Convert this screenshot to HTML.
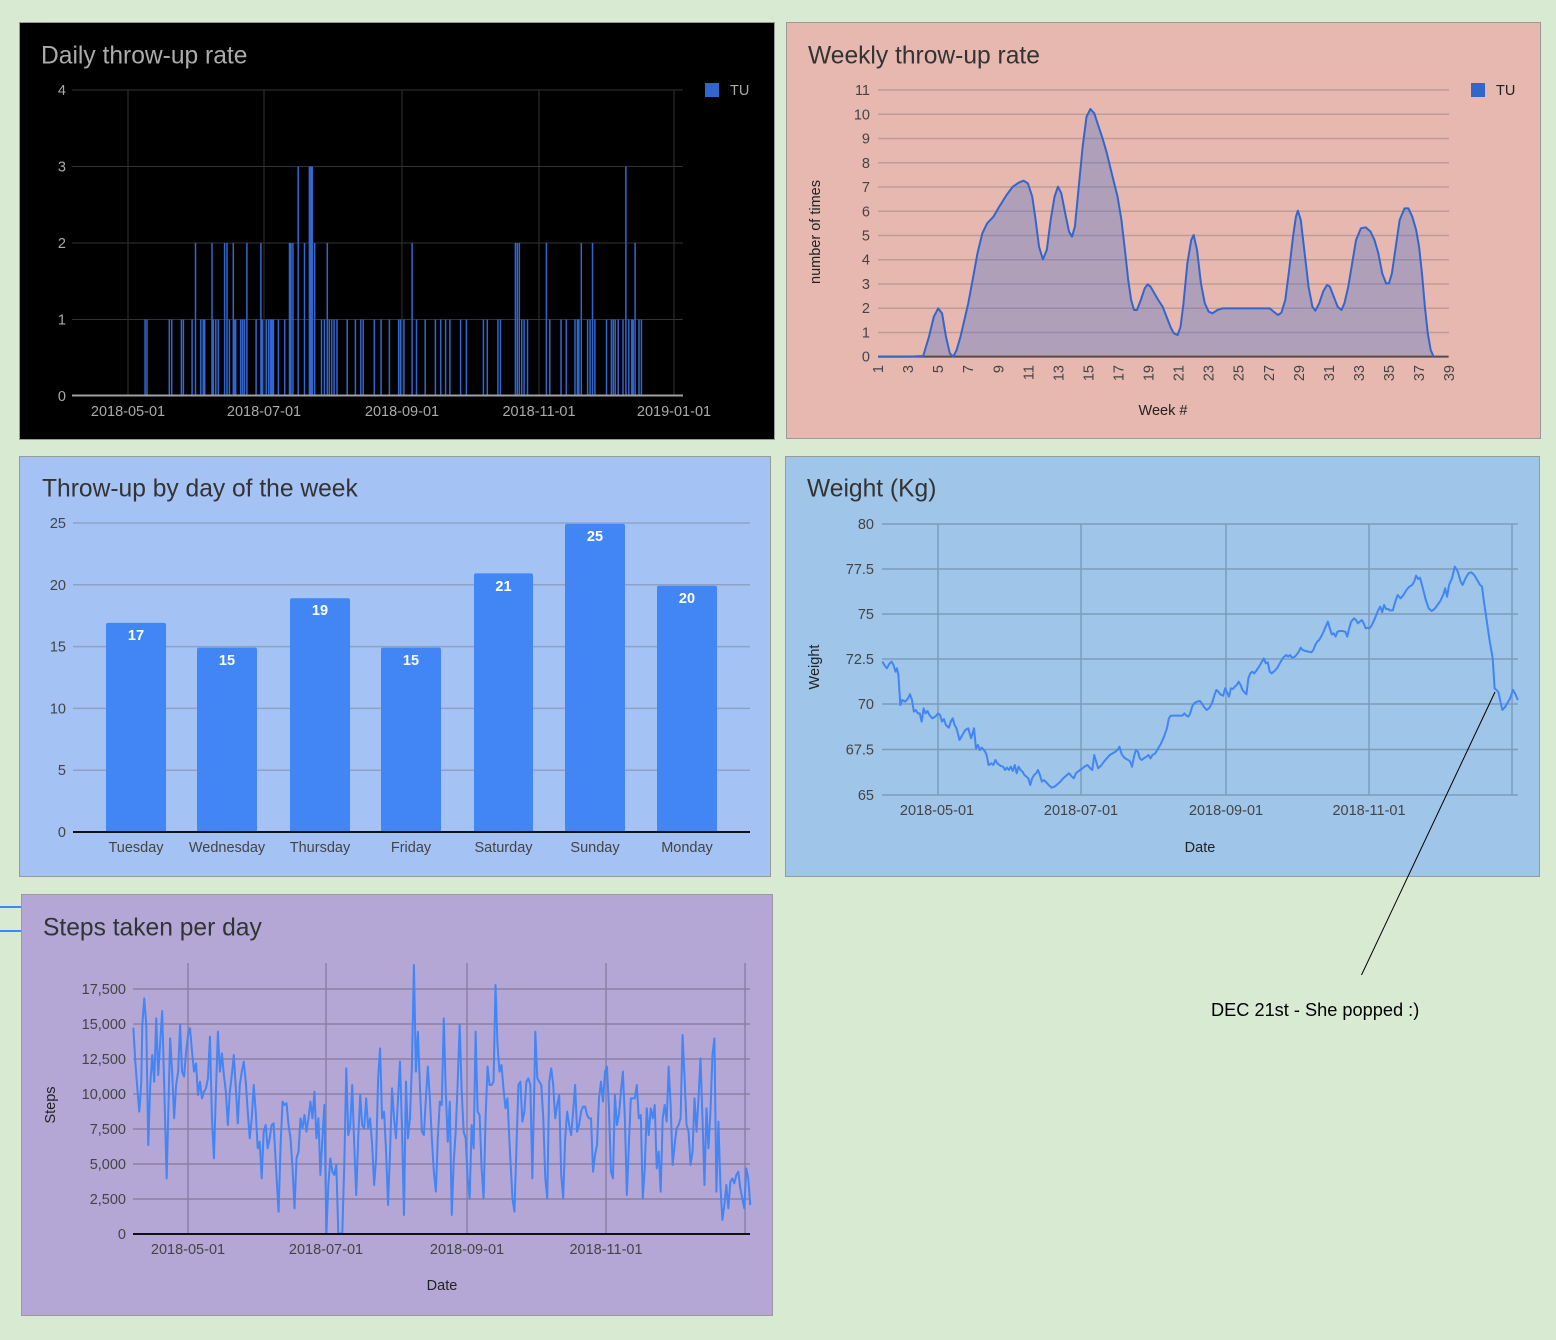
<!DOCTYPE html>
<html><head><meta charset="utf-8"><style>
html,body{margin:0;padding:0;background:#d9ead3;}
svg{display:block;}
text{font-family:"Liberation Sans",Arial,sans-serif;}
</style></head><body>
<svg width="1556" height="1340" viewBox="0 0 1556 1340" xmlns="http://www.w3.org/2000/svg">
<rect x="0" y="0" width="1556" height="1340" fill="#d9ead3"/>

<!-- left blue stubs -->
<line x1="0" y1="907" x2="21" y2="907" stroke="#4285f4" stroke-width="2"/>
<line x1="0" y1="931" x2="21" y2="931" stroke="#4285f4" stroke-width="2"/>

<!-- ============ PANEL 1: Daily ============ -->
<rect x="19.5" y="22.5" width="755" height="417" fill="#000" stroke="#9a9a9a"/>
<text x="41" y="63.5" font-size="24.6" fill="#ababab">Daily throw-up rate</text>
<g stroke="#333" stroke-width="1">
<line x1="72" y1="90" x2="683" y2="90"/>
<line x1="72" y1="166.5" x2="683" y2="166.5"/>
<line x1="72" y1="243" x2="683" y2="243"/>
<line x1="72" y1="319.5" x2="683" y2="319.5"/>
<line x1="128" y1="90" x2="128" y2="396"/>
<line x1="264" y1="90" x2="264" y2="396"/>
<line x1="402" y1="90" x2="402" y2="396"/>
<line x1="539" y1="90" x2="539" y2="396"/>
<line x1="674" y1="90" x2="674" y2="396"/>
</g>
<path stroke="#3366cc" stroke-width="1.5" fill="none" d="M145.1 396V319.5 M147 396V319.5 M169.3 396V319.5 M171.7 396V319.5 M181.4 396V319.5 M183.4 396V319.5 M192.1 396V319.5 M195.5 396V243 M200.8 396V319.5 M203.2 396V319.5 M204.7 396V319.5 M212 396V243 M213.4 396V319.5 M215.8 396V319.5 M218.3 396V319.5 M224.6 396V243 M227 396V243 M229.4 396V319.5 M233.3 396V243 M234.3 396V319.5 M235.7 396V319.5 M240.6 396V319.5 M242.5 396V319.5 M244.4 396V319.5 M246.9 396V243 M256.1 396V319.5 M260.9 396V243 M262.4 396V319.5 M266.2 396V319.5 M268.7 396V319.5 M270.6 396V319.5 M272.1 396V319.5 M273.5 396V319.5 M278.4 396V319.5 M284.7 396V319.5 M289.5 396V243 M291 396V243 M292.9 396V243 M298.2 396V166.5 M304.5 396V243 M309.4 396V166.5 M310.8 396V166.5 M312.3 396V166.5 M314.7 396V243 M321.5 396V319.5 M324.4 396V319.5 M327.3 396V243 M329.3 396V319.5 M331.7 396V319.5 M334.1 396V319.5 M337 396V319.5 M347.2 396V319.5 M355.4 396V319.5 M360.8 396V319.5 M363.2 396V319.5 M374.3 396V319.5 M381.1 396V319.5 M389.4 396V319.5 M398.6 396V319.5 M400.5 396V319.5 M403.9 396V319.5 M412.1 396V243 M416.5 396V319.5 M425.2 396V319.5 M435.4 396V319.5 M440.7 396V319.5 M445.6 396V319.5 M449.9 396V319.5 M460.6 396V319.5 M466.4 396V319.5 M483.4 396V319.5 M487.3 396V319.5 M497.9 396V319.5 M500.4 396V319.5 M515.4 396V243 M517.3 396V243 M519.3 396V243 M521.7 396V319.5 M524.1 396V319.5 M527.5 396V319.5 M546.4 396V243 M549.8 396V319.5 M561 396V319.5 M566.3 396V319.5 M575 396V319.5 M577.4 396V319.5 M578.9 396V319.5 M581.3 396V243 M587.6 396V319.5 M590.1 396V319.5 M592.5 396V243 M594.9 396V319.5 M606.5 396V319.5 M611.4 396V319.5 M613.3 396V319.5 M615.2 396V319.5 M618.2 396V319.5 M623 396V319.5 M625.9 396V166.5 M628.8 396V319.5 M631.7 396V319.5 M633.2 396V319.5 M635.1 396V243 M639 396V319.5 M641.4 396V319.5"/>
<line x1="72" y1="395.5" x2="683" y2="395.5" stroke="#a0a0a0" stroke-width="2"/>
<g font-size="14.5" fill="#aaa" text-anchor="end">
<text x="66" y="95">4</text>
<text x="66" y="171.5">3</text>
<text x="66" y="248">2</text>
<text x="66" y="324.5">1</text>
<text x="66" y="401">0</text>
</g>
<g font-size="14.5" fill="#aaa" text-anchor="middle">
<text x="128" y="416">2018-05-01</text>
<text x="264" y="416">2018-07-01</text>
<text x="402" y="416">2018-09-01</text>
<text x="539" y="416">2018-11-01</text>
<text x="674" y="416">2019-01-01</text>
</g>
<rect x="705" y="83" width="14" height="14" fill="#3366cc"/>
<text x="730" y="95" font-size="14.5" fill="#aaa">TU</text>

<!-- ============ PANEL 2: Weekly ============ -->
<rect x="786.5" y="22.5" width="754" height="416" fill="#e6b8af" stroke="#9a9a9a"/>
<text x="808" y="63.5" font-size="24.6" fill="#333">Weekly throw-up rate</text>
<g stroke="#c09c97" stroke-width="1.5">
<line x1="878" y1="90" x2="1449" y2="90"/>
<line x1="878" y1="114.3" x2="1449" y2="114.3"/>
<line x1="878" y1="138.5" x2="1449" y2="138.5"/>
<line x1="878" y1="162.8" x2="1449" y2="162.8"/>
<line x1="878" y1="187" x2="1449" y2="187"/>
<line x1="878" y1="211.3" x2="1449" y2="211.3"/>
<line x1="878" y1="235.5" x2="1449" y2="235.5"/>
<line x1="878" y1="259.7" x2="1449" y2="259.7"/>
<line x1="878" y1="284" x2="1449" y2="284"/>
<line x1="878" y1="308.2" x2="1449" y2="308.2"/>
<line x1="878" y1="332.5" x2="1449" y2="332.5"/>
</g>
<g transform="translate(786,20) scale(0.48473,0.33333)">
<polygon fill="#3366cc" fill-opacity="0.3" points="190,1010 255,1010 283,1008 295,950 305,890 314,865 322,880 330,950 338,1000 345,1010 352,990 360,950 368,900 376,850 385,780 395,700 405,640 415,610 428,590 440,560 455,525 468,500 480,488 490,482 499,490 508,530 515,600 522,680 530,718 538,690 546,600 554,530 561,500 568,520 576,580 584,635 590,650 596,620 604,500 612,380 620,290 628,267 636,280 645,320 653,355 662,400 672,460 684,530 692,600 700,700 706,780 712,840 718,870 724,870 732,840 740,805 746,793 752,800 760,820 768,840 777,860 785,890 793,920 800,940 808,945 814,920 820,850 828,730 836,660 841,645 848,690 856,790 864,850 872,875 880,880 890,870 901,865 920,865 950,865 990,865 998,865 1006,875 1015,885 1022,878 1030,840 1038,750 1046,650 1052,590 1056,572 1062,600 1070,700 1078,800 1086,860 1092,872 1100,850 1108,815 1116,795 1122,800 1130,830 1138,860 1146,870 1152,850 1160,800 1168,730 1176,660 1186,625 1196,622 1206,635 1214,660 1222,700 1230,760 1238,790 1244,790 1250,760 1258,680 1266,600 1276,565 1284,565 1292,590 1300,630 1306,680 1312,760 1318,860 1324,940 1330,990 1336,1010"/>
<line x1="190" y1="1010" x2="1367" y2="1010" stroke="#5a4848" stroke-width="2" vector-effect="non-scaling-stroke"/>
<polyline fill="none" stroke="#3366cc" stroke-width="2" vector-effect="non-scaling-stroke" stroke-linejoin="round" points="190,1010 255,1010 283,1008 295,950 305,890 314,865 322,880 330,950 338,1000 345,1010 352,990 360,950 368,900 376,850 385,780 395,700 405,640 415,610 428,590 440,560 455,525 468,500 480,488 490,482 499,490 508,530 515,600 522,680 530,718 538,690 546,600 554,530 561,500 568,520 576,580 584,635 590,650 596,620 604,500 612,380 620,290 628,267 636,280 645,320 653,355 662,400 672,460 684,530 692,600 700,700 706,780 712,840 718,870 724,870 732,840 740,805 746,793 752,800 760,820 768,840 777,860 785,890 793,920 800,940 808,945 814,920 820,850 828,730 836,660 841,645 848,690 856,790 864,850 872,875 880,880 890,870 901,865 920,865 950,865 990,865 998,865 1006,875 1015,885 1022,878 1030,840 1038,750 1046,650 1052,590 1056,572 1062,600 1070,700 1078,800 1086,860 1092,872 1100,850 1108,815 1116,795 1122,800 1130,830 1138,860 1146,870 1152,850 1160,800 1168,730 1176,660 1186,625 1196,622 1206,635 1214,660 1222,700 1230,760 1238,790 1244,790 1250,760 1258,680 1266,600 1276,565 1284,565 1292,590 1300,630 1306,680 1312,760 1318,860 1324,940 1330,990 1336,1010"/>
</g>
<g font-size="14.5" fill="#444" text-anchor="end">
<text x="870" y="95">11</text>
<text x="870" y="119.3">10</text>
<text x="870" y="143.5">9</text>
<text x="870" y="167.8">8</text>
<text x="870" y="192">7</text>
<text x="870" y="216.3">6</text>
<text x="870" y="240.5">5</text>
<text x="870" y="264.7">4</text>
<text x="870" y="289">3</text>
<text x="870" y="313.2">2</text>
<text x="870" y="337.5">1</text>
<text x="870" y="361.7">0</text>
</g>
<g font-size="14.5" fill="#444" text-anchor="end">
<text transform="translate(883,365) rotate(-90)">1</text>
<text transform="translate(913.1,365) rotate(-90)">3</text>
<text transform="translate(943.1,365) rotate(-90)">5</text>
<text transform="translate(973.2,365) rotate(-90)">7</text>
<text transform="translate(1003.3,365) rotate(-90)">9</text>
<text transform="translate(1033.3,365) rotate(-90)">11</text>
<text transform="translate(1063.4,365) rotate(-90)">13</text>
<text transform="translate(1093.4,365) rotate(-90)">15</text>
<text transform="translate(1123.5,365) rotate(-90)">17</text>
<text transform="translate(1153.6,365) rotate(-90)">19</text>
<text transform="translate(1183.6,365) rotate(-90)">21</text>
<text transform="translate(1213.7,365) rotate(-90)">23</text>
<text transform="translate(1243.7,365) rotate(-90)">25</text>
<text transform="translate(1273.8,365) rotate(-90)">27</text>
<text transform="translate(1303.8,365) rotate(-90)">29</text>
<text transform="translate(1333.9,365) rotate(-90)">31</text>
<text transform="translate(1364,365) rotate(-90)">33</text>
<text transform="translate(1394,365) rotate(-90)">35</text>
<text transform="translate(1424.1,365) rotate(-90)">37</text>
<text transform="translate(1454.1,365) rotate(-90)">39</text>
</g>
<text transform="translate(820,232) rotate(-90)" font-size="14.5" fill="#222" text-anchor="middle">number of times</text>
<text x="1163" y="415" font-size="14.5" fill="#222" text-anchor="middle">Week #</text>
<rect x="1471" y="83" width="14" height="14" fill="#3366cc"/>
<text x="1496" y="95" font-size="14.5" fill="#222">TU</text>

<!-- ============ PANEL 3: Bars ============ -->
<rect x="19.5" y="456.5" width="751" height="420" fill="#a4c2f4" stroke="#9a9a9a"/>
<text x="42" y="496.5" font-size="24.6" fill="#333">Throw-up by day of the week</text>
<g stroke="#8ea2c4" stroke-width="1.5">
<line x1="73" y1="523" x2="750" y2="523"/>
<line x1="73" y1="584.8" x2="750" y2="584.8"/>
<line x1="73" y1="646.6" x2="750" y2="646.6"/>
<line x1="73" y1="708.4" x2="750" y2="708.4"/>
<line x1="73" y1="770.2" x2="750" y2="770.2"/>
</g>
<g fill="#4285f4">
<path d="M106 832V624.9a2 2 0 0 1 2 -2H164a2 2 0 0 1 2 2V832Z"/>
<path d="M197 832V649.6a2 2 0 0 1 2 -2H255a2 2 0 0 1 2 2V832Z"/>
<path d="M290 832V600.2a2 2 0 0 1 2 -2H348a2 2 0 0 1 2 2V832Z"/>
<path d="M381 832V649.6a2 2 0 0 1 2 -2H439a2 2 0 0 1 2 2V832Z"/>
<path d="M474 832V575.4a2 2 0 0 1 2 -2H531a2 2 0 0 1 2 2V832Z"/>
<path d="M565 832V525.9a2 2 0 0 1 2 -2H623a2 2 0 0 1 2 2V832Z"/>
<path d="M657 832V587.8a2 2 0 0 1 2 -2H715a2 2 0 0 1 2 2V832Z"/>
</g>
<line x1="73" y1="832" x2="750" y2="832" stroke="#111" stroke-width="2"/>
<g font-size="14.5" font-weight="bold" fill="#fff" text-anchor="middle">
<text x="136" y="640">17</text>
<text x="227" y="665">15</text>
<text x="320" y="615">19</text>
<text x="411" y="665">15</text>
<text x="503.5" y="591">21</text>
<text x="595" y="541">25</text>
<text x="687" y="603">20</text>
</g>
<g font-size="14.5" fill="#444" text-anchor="end">
<text x="66" y="528">25</text>
<text x="66" y="589.8">20</text>
<text x="66" y="651.6">15</text>
<text x="66" y="713.4">10</text>
<text x="66" y="775.2">5</text>
<text x="66" y="837">0</text>
</g>
<g font-size="14.5" fill="#444" text-anchor="middle">
<text x="136" y="852">Tuesday</text>
<text x="227" y="852">Wednesday</text>
<text x="320" y="852">Thursday</text>
<text x="411" y="852">Friday</text>
<text x="503.5" y="852">Saturday</text>
<text x="595" y="852">Sunday</text>
<text x="687" y="852">Monday</text>
</g>

<!-- ============ PANEL 4: Weight ============ -->
<rect x="785.5" y="456.5" width="754" height="420" fill="#9fc5e8" stroke="#9a9a9a"/>
<text x="807" y="496.5" font-size="24.6" fill="#333">Weight (Kg)</text>
<g stroke="#7f9cba" stroke-width="1.5">
<line x1="882" y1="524" x2="1518" y2="524"/>
<line x1="882" y1="569" x2="1518" y2="569"/>
<line x1="882" y1="614" x2="1518" y2="614"/>
<line x1="882" y1="659" x2="1518" y2="659"/>
<line x1="882" y1="704" x2="1518" y2="704"/>
<line x1="882" y1="749.5" x2="1518" y2="749.5"/>
<line x1="882" y1="795" x2="1518" y2="795"/>
<line x1="938" y1="524" x2="938" y2="795"/>
<line x1="1081" y1="524" x2="1081" y2="795"/>
<line x1="1226" y1="524" x2="1226" y2="795"/>
<line x1="1369" y1="524" x2="1369" y2="795"/>
<line x1="1512" y1="524" x2="1512" y2="795"/>
</g>
<g transform="translate(784,455) scale(0.48473,0.33333)">
<polyline fill="none" stroke="#4285f4" stroke-width="2" vector-effect="non-scaling-stroke" stroke-linejoin="round" points="203,620 207,630 212,640 218,625 222,620 226,630 230,650 233,640 236,660 240,750 244,735 250,740 256,730 260,718 264,735 268,770 272,765 276,775 280,775 284,800 288,760 292,775 296,768 300,780 306,790 312,785 318,775 322,780 326,800 330,792 334,810 340,818 344,800 348,790 352,810 356,820 362,855 368,840 374,825 380,820 386,850 392,820 396,880 400,870 404,885 408,878 414,888 418,900 422,930 428,925 432,930 436,915 440,925 446,932 452,935 456,945 460,938 464,945 468,935 472,948 476,930 480,955 484,935 488,945 492,950 496,960 500,965 504,970 508,990 512,970 516,960 520,955 524,945 528,960 532,980 536,975 540,980 546,990 552,998 558,995 564,988 570,980 576,970 582,962 588,955 594,965 598,970 602,955 608,948 614,942 620,935 626,930 632,940 636,945 640,900 644,920 648,940 654,932 660,920 666,910 672,900 678,895 684,890 688,885 692,875 696,895 700,905 704,910 710,915 714,920 718,935 722,905 726,885 730,890 734,910 738,915 742,910 748,905 752,900 756,910 760,900 766,895 772,880 778,865 784,845 790,820 794,790 798,782 806,782 814,782 822,782 826,775 830,782 834,785 838,775 842,755 846,745 852,740 858,738 862,745 866,755 872,765 878,758 884,740 888,720 892,705 896,710 900,718 906,722 910,700 914,712 918,725 922,700 926,702 930,695 934,690 938,680 942,690 946,705 950,712 954,718 958,670 962,655 966,650 970,655 974,648 980,635 986,620 990,610 994,625 998,622 1002,650 1006,655 1012,648 1018,638 1024,622 1030,608 1036,600 1040,605 1044,600 1048,608 1054,605 1058,598 1062,590 1066,578 1070,585 1076,588 1082,590 1088,592 1092,585 1096,570 1100,560 1104,555 1110,540 1116,520 1122,500 1126,520 1130,538 1134,535 1138,545 1142,530 1146,528 1152,528 1158,530 1162,545 1166,520 1170,500 1176,490 1180,495 1184,505 1188,500 1192,495 1196,505 1200,520 1204,518 1208,520 1212,512 1216,500 1222,480 1226,465 1230,455 1234,472 1238,450 1242,462 1246,462 1250,466 1256,466 1260,445 1266,420 1272,430 1278,420 1284,405 1290,395 1296,390 1300,380 1304,362 1308,372 1312,368 1318,400 1324,435 1330,460 1336,468 1342,462 1348,450 1354,438 1360,420 1364,400 1368,425 1372,390 1378,370 1384,335 1390,350 1396,380 1400,390 1406,370 1412,355 1418,352 1424,360 1430,375 1436,390 1440,395 1444,440 1450,500 1456,560 1462,610 1466,700 1470,705 1474,712 1478,740 1482,765 1488,755 1494,740 1498,730 1504,705 1508,715 1514,735"/>
</g>
<g font-size="14.5" fill="#444" text-anchor="end">
<text x="874" y="529">80</text>
<text x="874" y="574">77.5</text>
<text x="874" y="619">75</text>
<text x="874" y="664">72.5</text>
<text x="874" y="709">70</text>
<text x="874" y="754.5">67.5</text>
<text x="874" y="800">65</text>
</g>
<g font-size="14.5" fill="#444" text-anchor="middle">
<text x="937" y="815">2018-05-01</text>
<text x="1081" y="815">2018-07-01</text>
<text x="1226" y="815">2018-09-01</text>
<text x="1369" y="815">2018-11-01</text>
</g>
<text x="1200" y="852" font-size="14.5" fill="#222" text-anchor="middle">Date</text>
<text transform="translate(819,667) rotate(-90)" font-size="14.5" fill="#222" text-anchor="middle">Weight</text>

<!-- ============ PANEL 5: Steps ============ -->
<rect x="21.5" y="894.5" width="751" height="421" fill="#b4a7d6" stroke="#9a9a9a"/>
<text x="43" y="935.5" font-size="24.6" fill="#333">Steps taken per day</text>
<g stroke="#8a80a6" stroke-width="1.5">
<line x1="133" y1="989" x2="750" y2="989"/>
<line x1="133" y1="1024" x2="750" y2="1024"/>
<line x1="133" y1="1059" x2="750" y2="1059"/>
<line x1="133" y1="1094" x2="750" y2="1094"/>
<line x1="133" y1="1129" x2="750" y2="1129"/>
<line x1="133" y1="1164" x2="750" y2="1164"/>
<line x1="133" y1="1199" x2="750" y2="1199"/>
<line x1="188" y1="963" x2="188" y2="1234"/>
<line x1="326" y1="963" x2="326" y2="1234"/>
<line x1="467" y1="963" x2="467" y2="1234"/>
<line x1="606" y1="963" x2="606" y2="1234"/>
<line x1="745" y1="963" x2="745" y2="1234"/>
</g>
<g transform="translate(0,885) scale(0.49751,0.33333)">
<polyline fill="none" stroke="#4285f4" stroke-width="2" vector-effect="non-scaling-stroke" stroke-linejoin="round" points="268,428 272,530 276,610 280,680 284,590 286,420 290,340 294,420 298,780 302,600 306,510 310,590 314,400 318,570 322,470 326,378 330,600 335,880 338,700 342,460 346,560 350,700 354,600 358,560 362,420 366,560 370,575 374,500 378,450 382,430 386,500 390,560 394,535 398,630 402,590 406,640 410,620 414,610 418,580 422,455 426,700 430,820 434,620 438,440 442,560 446,505 450,570 454,620 458,720 462,620 466,570 470,510 474,610 478,715 482,600 486,560 490,530 494,590 498,680 502,760 506,700 510,600 514,680 518,790 522,770 526,880 530,740 534,720 538,790 542,760 546,720 550,715 556,880 560,980 564,780 568,650 572,660 576,655 580,720 584,760 588,850 592,970 596,820 600,800 604,700 608,730 612,690 616,740 620,700 624,650 628,700 632,620 636,760 640,700 644,870 648,760 652,660 656,1045 660,900 664,820 668,860 672,870 676,840 680,1045 684,1045 688,1045 692,840 696,550 700,750 704,720 708,600 712,780 716,930 720,760 724,630 728,720 732,730 736,640 740,730 744,700 748,780 752,900 756,820 760,580 764,490 768,700 772,680 776,800 780,960 784,800 788,610 792,700 796,760 800,640 804,530 808,730 812,990 816,590 820,760 824,700 828,540 832,240 836,560 840,440 844,600 848,740 852,750 856,640 860,545 864,640 868,760 872,860 876,920 880,760 884,650 888,660 892,400 896,620 900,770 904,650 908,990 912,830 916,740 920,590 924,420 928,620 932,740 936,760 940,880 944,940 948,720 952,790 956,440 960,680 964,690 968,850 972,940 976,700 980,545 984,600 988,600 992,590 996,300 1000,480 1004,560 1008,540 1012,610 1016,670 1020,640 1024,770 1030,940 1034,980 1038,790 1042,600 1046,590 1050,710 1054,680 1058,590 1062,580 1066,600 1070,880 1074,600 1076,440 1080,580 1084,590 1088,600 1092,700 1096,880 1100,940 1104,590 1108,550 1112,600 1116,700 1120,660 1124,630 1128,870 1132,940 1136,760 1140,680 1144,720 1148,750 1152,680 1156,600 1160,740 1164,720 1168,680 1172,665 1176,665 1180,690 1184,700 1188,700 1192,860 1196,810 1200,780 1204,640 1208,590 1212,650 1216,560 1220,545 1224,670 1228,860 1232,880 1236,630 1240,720 1244,690 1248,620 1252,560 1256,700 1260,930 1264,780 1268,640 1272,640 1276,640 1280,600 1284,700 1288,690 1292,940 1296,850 1300,670 1304,750 1308,670 1312,700 1316,660 1320,850 1324,800 1328,920 1332,700 1336,660 1340,710 1344,545 1348,660 1352,840 1356,780 1360,730 1364,720 1368,700 1372,450 1376,580 1380,720 1384,740 1388,840 1392,800 1396,640 1400,740 1404,640 1408,520 1412,700 1416,900 1420,670 1424,790 1428,680 1432,510 1436,460 1440,920 1444,710 1448,900 1452,1005 1456,960 1460,900 1464,970 1468,890 1472,880 1476,895 1480,870 1484,860 1488,910 1492,940 1496,970 1500,850 1504,880 1508,960"/>
</g>
<line x1="133" y1="1234" x2="750" y2="1234" stroke="#111" stroke-width="2"/>
<g font-size="14.5" fill="#444" text-anchor="end">
<text x="126" y="994">17,500</text>
<text x="126" y="1029">15,000</text>
<text x="126" y="1064">12,500</text>
<text x="126" y="1099">10,000</text>
<text x="126" y="1134">7,500</text>
<text x="126" y="1169">5,000</text>
<text x="126" y="1204">2,500</text>
<text x="126" y="1239">0</text>
</g>
<g font-size="14.5" fill="#444" text-anchor="middle">
<text x="188" y="1254">2018-05-01</text>
<text x="326" y="1254">2018-07-01</text>
<text x="467" y="1254">2018-09-01</text>
<text x="606" y="1254">2018-11-01</text>
</g>
<text x="442" y="1290" font-size="14.5" fill="#222" text-anchor="middle">Date</text>
<text transform="translate(55,1105) rotate(-90)" font-size="14.5" fill="#222" text-anchor="middle">Steps</text>

<!-- annotation -->
<line x1="1495" y1="692" x2="1361.5" y2="975" stroke="#000" stroke-width="1"/>
<text x="1211" y="1016" font-size="18.2" fill="#000">DEC 21st - She popped :)</text>
</svg>
</body></html>
